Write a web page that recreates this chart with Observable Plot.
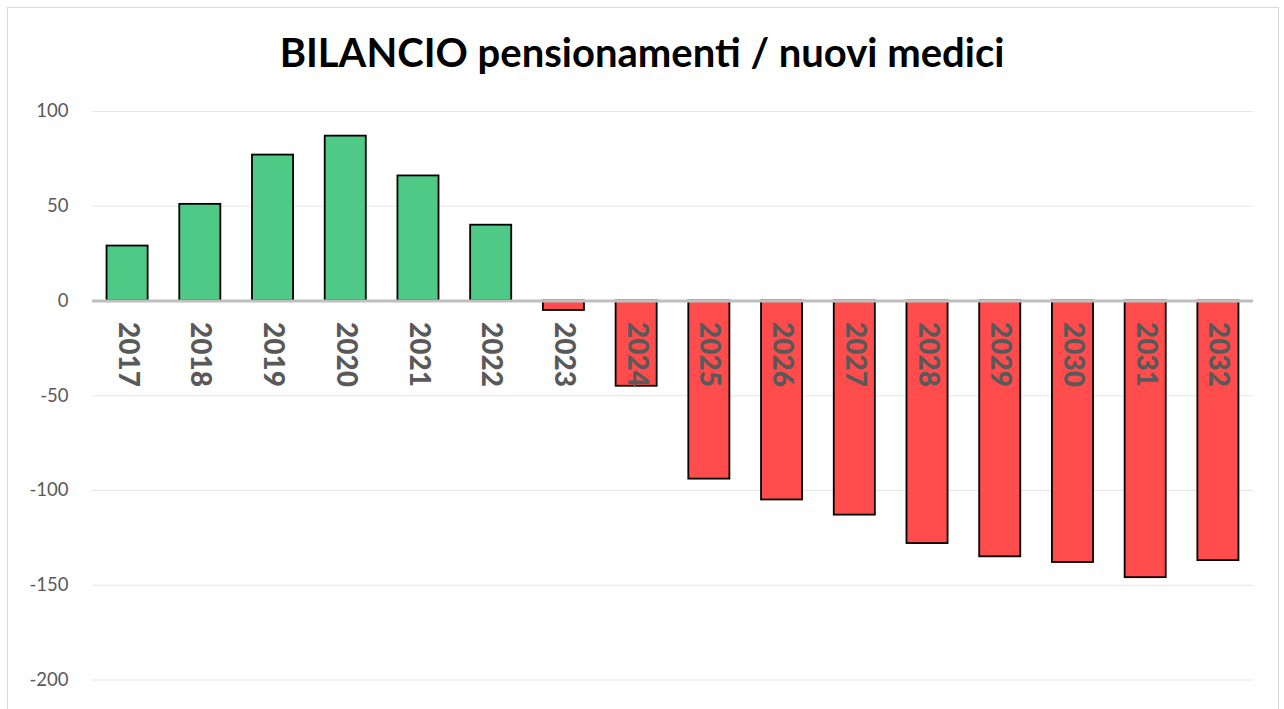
<!DOCTYPE html>
<html>
<head>
<meta charset="utf-8">
<script src="https://cdn.jsdelivr.net/npm/d3@7"></script>
<script src="https://cdn.jsdelivr.net/npm/@observablehq/plot@0.6"></script>
<style>
  body { margin: 0; background: #fff; }
  #wrap { position: relative; width: 1284px; height: 709px; overflow: hidden; background: #fff; }
  #frame { position: absolute; left: 7px; top: 7px; width: 1272px; height: 760px; border: 1px solid #d9d9d9; box-sizing: border-box; pointer-events: none; }
  #title { height: 95px; box-sizing: border-box; padding-top: 32px; line-height: 40px; text-align: center;
           font-family: Lato, sans-serif; font-weight: bold; font-size: 40px; color: #000; }
  #chart svg { display: block; }
</style>
</head>
<body>
<div id="wrap">
  <div id="frame"></div>
  <div id="title">BILANCIO pensionamenti / nuovi medici</div>
  <div id="chart"></div>
</div>
<script>
const years = ["2017","2018","2019","2020","2021","2022","2023","2024","2025","2026","2027","2028","2029","2030","2031","2032"];
const values = [29, 51, 77, 87, 66, 40, -5, -45, -94, -105, -113, -128, -135, -138, -146, -137];
const yTicks = [-200, -150, -100, -50, 0, 50, 100];
const positiveColor = "#4ec986";
const negativeColor = "#ff4c4c";

const data = years.map((year, i) => ({year, value: values[i]}));

const chart = Plot.plot({
  width: 1284,
  height: 614,
  marginLeft: 92,
  marginRight: 31,
  marginTop: 16,
  marginBottom: 29.5,
  style: {fontFamily: "Lato, sans-serif", background: "transparent"},
  x: {type: "band", domain: years, paddingInner: 0.435, paddingOuter: 0.2, round: false, axis: null},
  y: {domain: [-200, 100], axis: null},
  marks: [
    Plot.gridY(yTicks, {stroke: "#e6e6e6", strokeOpacity: 1, strokeWidth: 1}),
    Plot.axisY(yTicks, {tickSize: 0, tickPadding: 24, fontSize: 18.5, fill: "#595959", label: null, tickFormat: d => String(d)}),
    Plot.barY(data.filter(d => d.value >= 0), {x: "year", y: "value", fill: positiveColor, stroke: "#000", strokeWidth: 1.8}),
    Plot.barY(data.filter(d => d.value < 0), {x: "year", y: "value", fill: negativeColor, stroke: "#000", strokeWidth: 1.8}),
    Plot.ruleY([0], {stroke: "#bfbfbf", strokeWidth: 3}),
    Plot.text(data, {x: "year", y: () => 0, text: "year", rotate: 90, textAnchor: "start", dy: 21,
                     fontSize: 28, fontWeight: "900", fill: "#595959"})
  ]
});
document.getElementById("chart").appendChild(chart);
</script>
</body>
</html>
